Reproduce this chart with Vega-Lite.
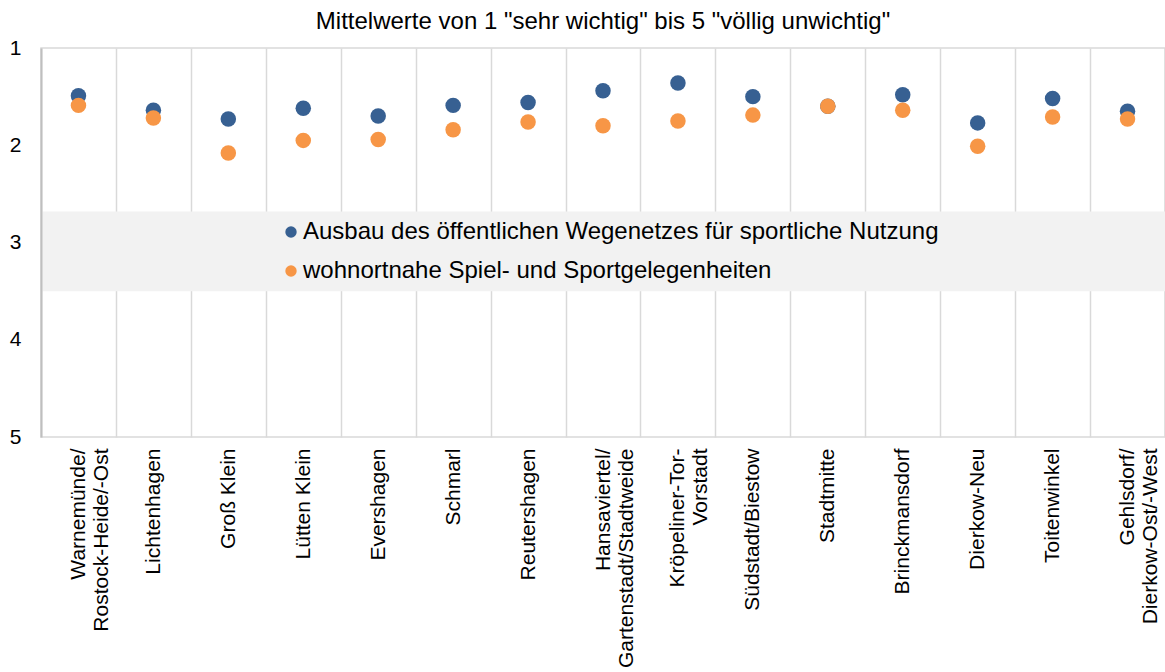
{
  "$schema": "https://vega.github.io/schema/vega-lite/v6.json",
  "width": 1124,
  "height": 389,
  "autosize": {"type": "none"},
  "padding": {"left": 41, "top": 48, "right": 0, "bottom": 235},
  "background": "white",
  "config": {
    "font": "Liberation Sans",
    "view": {"stroke": "#d9d9d9", "strokeWidth": 1.5}
  },
  "title": {
    "text": "Mittelwerte von 1 \"sehr wichtig\" bis 5 \"völlig unwichtig\"",
    "fontSize": 24,
    "fontWeight": "normal",
    "color": "#000000",
    "offset": 3,
    "anchor": "middle"
  },
  "datasets": {
    "werte": [
      {"bezirk": "Warnemünde/|Rostock-Heide/-Ost", "reihe": "Ausbau des öffentlichen Wegenetzes für sportliche Nutzung", "wert": 1.49},
      {"bezirk": "Lichtenhagen", "reihe": "Ausbau des öffentlichen Wegenetzes für sportliche Nutzung", "wert": 1.64},
      {"bezirk": "Groß Klein", "reihe": "Ausbau des öffentlichen Wegenetzes für sportliche Nutzung", "wert": 1.73},
      {"bezirk": "Lütten Klein", "reihe": "Ausbau des öffentlichen Wegenetzes für sportliche Nutzung", "wert": 1.62},
      {"bezirk": "Evershagen", "reihe": "Ausbau des öffentlichen Wegenetzes für sportliche Nutzung", "wert": 1.70},
      {"bezirk": "Schmarl", "reihe": "Ausbau des öffentlichen Wegenetzes für sportliche Nutzung", "wert": 1.59},
      {"bezirk": "Reutershagen", "reihe": "Ausbau des öffentlichen Wegenetzes für sportliche Nutzung", "wert": 1.56},
      {"bezirk": "Hansaviertel/|Gartenstadt/Stadtweide", "reihe": "Ausbau des öffentlichen Wegenetzes für sportliche Nutzung", "wert": 1.44},
      {"bezirk": "Kröpeliner-Tor-|Vorstadt", "reihe": "Ausbau des öffentlichen Wegenetzes für sportliche Nutzung", "wert": 1.36},
      {"bezirk": "Südstadt/Biestow", "reihe": "Ausbau des öffentlichen Wegenetzes für sportliche Nutzung", "wert": 1.50},
      {"bezirk": "Stadtmitte", "reihe": "Ausbau des öffentlichen Wegenetzes für sportliche Nutzung", "wert": 1.60},
      {"bezirk": "Brinckmansdorf", "reihe": "Ausbau des öffentlichen Wegenetzes für sportliche Nutzung", "wert": 1.48},
      {"bezirk": "Dierkow-Neu", "reihe": "Ausbau des öffentlichen Wegenetzes für sportliche Nutzung", "wert": 1.77},
      {"bezirk": "Toitenwinkel", "reihe": "Ausbau des öffentlichen Wegenetzes für sportliche Nutzung", "wert": 1.52},
      {"bezirk": "Gehlsdorf/|Dierkow-Ost/-West", "reihe": "Ausbau des öffentlichen Wegenetzes für sportliche Nutzung", "wert": 1.65},
      {"bezirk": "Warnemünde/|Rostock-Heide/-Ost", "reihe": "wohnortnahe Spiel- und Sportgelegenheiten", "wert": 1.59},
      {"bezirk": "Lichtenhagen", "reihe": "wohnortnahe Spiel- und Sportgelegenheiten", "wert": 1.72},
      {"bezirk": "Groß Klein", "reihe": "wohnortnahe Spiel- und Sportgelegenheiten", "wert": 2.08},
      {"bezirk": "Lütten Klein", "reihe": "wohnortnahe Spiel- und Sportgelegenheiten", "wert": 1.95},
      {"bezirk": "Evershagen", "reihe": "wohnortnahe Spiel- und Sportgelegenheiten", "wert": 1.94},
      {"bezirk": "Schmarl", "reihe": "wohnortnahe Spiel- und Sportgelegenheiten", "wert": 1.84},
      {"bezirk": "Reutershagen", "reihe": "wohnortnahe Spiel- und Sportgelegenheiten", "wert": 1.76},
      {"bezirk": "Hansaviertel/|Gartenstadt/Stadtweide", "reihe": "wohnortnahe Spiel- und Sportgelegenheiten", "wert": 1.80},
      {"bezirk": "Kröpeliner-Tor-|Vorstadt", "reihe": "wohnortnahe Spiel- und Sportgelegenheiten", "wert": 1.75},
      {"bezirk": "Südstadt/Biestow", "reihe": "wohnortnahe Spiel- und Sportgelegenheiten", "wert": 1.69},
      {"bezirk": "Stadtmitte", "reihe": "wohnortnahe Spiel- und Sportgelegenheiten", "wert": 1.60},
      {"bezirk": "Brinckmansdorf", "reihe": "wohnortnahe Spiel- und Sportgelegenheiten", "wert": 1.64},
      {"bezirk": "Dierkow-Neu", "reihe": "wohnortnahe Spiel- und Sportgelegenheiten", "wert": 2.01},
      {"bezirk": "Toitenwinkel", "reihe": "wohnortnahe Spiel- und Sportgelegenheiten", "wert": 1.71},
      {"bezirk": "Gehlsdorf/|Dierkow-Ost/-West", "reihe": "wohnortnahe Spiel- und Sportgelegenheiten", "wert": 1.73}
    ],
    "legendenfeld": [{"von": 2.68, "bis": 3.5}]
  },
  "layer": [
    {
      "data": {"name": "legendenfeld"},
      "mark": {"type": "rect", "color": "#f2f2f2"},
      "encoding": {
        "y": {"field": "von", "type": "quantitative"},
        "y2": {"field": "bis"}
      }
    },
    {
      "data": {"name": "werte"},
      "mark": {"type": "point", "filled": true, "size": 240, "opacity": 1},
      "encoding": {
        "x": {
          "field": "bezirk", "type": "nominal", "sort": null,
          "scale": {"paddingInner": 0, "paddingOuter": 0},
          "axis": {
            "title": null, "orient": "bottom",
            "grid": true, "gridColor": "#d9d9d9", "gridWidth": 1.5, "tickBand": "extent",
            "ticks": false, "domain": false,
            "labelAngle": -90, "labelFontSize": 21, "labelColor": "#000000",
            "labelPadding": 11, "labelLineHeight": 23, "labelLimit": 400,
            "labelExpr": "datum.label === 'Warnemünde/|Rostock-Heide/-Ost' ? ['Warnemünde/\u00a0\u00a0\u00a0\u00a0', 'Rostock-Heide/-Ost'] : datum.label === 'Hansaviertel/|Gartenstadt/Stadtweide' ? ['Hansaviertel/\u00a0\u00a0\u00a0\u00a0\u00a0\u00a0\u00a0\u00a0', 'Gartenstadt/Stadtweide'] : datum.label === 'Kröpeliner-Tor-|Vorstadt' ? ['Kröpeliner-Tor-', 'Vorstadt\u00a0\u00a0\u00a0\u00a0\u00a0'] : datum.label === 'Gehlsdorf/|Dierkow-Ost/-West' ? ['Gehlsdorf/\u00a0\u00a0\u00a0\u00a0\u00a0\u00a0\u00a0', 'Dierkow-Ost/-West'] : datum.label"
          }
        },
        "y": {
          "field": "wert", "type": "quantitative",
          "scale": {"domain": [5, 1], "nice": false, "zero": false},
          "axis": {
            "title": null, "values": [1, 2, 3, 4, 5], "format": "d", "grid": false, "ticks": false,
            "domain": true, "domainColor": "#bfbfbf", "domainWidth": 2,
            "labelFontSize": 21, "labelColor": "#000000", "labelPadding": 20,
            "zindex": 1
          }
        },
        "color": {
          "field": "reihe", "type": "nominal", "sort": null,
          "scale": {"range": ["#376092", "#f79646"]},
          "legend": {
            "title": null, "orient": "none", "legendX": 238, "legendY": 172,
            "symbolType": "circle", "symbolSize": 130, "labelFontSize": 24,
            "labelColor": "#000000", "rowPadding": 15, "labelOffset": 0, "padding": 0,
            "labelLimit": 900
          }
        }
      }
    }
  ]
}
